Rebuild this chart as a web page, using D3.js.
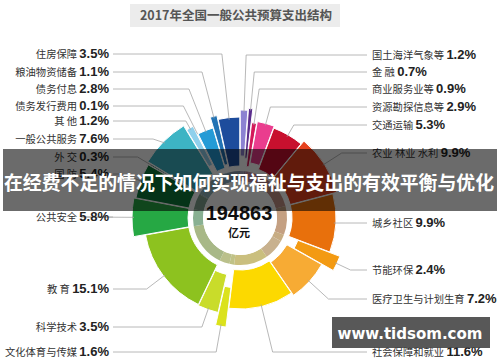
<!DOCTYPE html>
<html><head><meta charset="utf-8">
<script src="https://cdn.jsdelivr.net/npm/d3@7"></script>
<style>body{margin:0;background:#fff;} svg{display:block}</style>
</head><body>
<svg id="c" width="500" height="362"></svg>
<script>
// ---------- data ----------
const title = "2017年全国一般公共预算支出结构";
const categories = ["国土海洋气象等","金 融","商业服务业等","资源勘探信息等","交通运输","农业 林业 水利","城乡社区","节能环保","医疗卫生与计划生育","社会保障和就业","文化体育与传媒","科学技术","教 育","公共安全","国 防","外 交","一般公共服务","其 他","债务发行费用","债务付息","粮油物资储备","住房保障"];
const shares = [1.2,0.7,0.9,2.9,5.3,9.9,9.9,2.4,7.2,11.6,1.6,3.5,15.1,5.8,5.4,0.3,7.6,1.2,0.1,2.8,1.1,3.5];
const totalValue = "194863";
const totalUnit = "亿元";
const bannerText = "在经费不足的情况下如何实现福祉与支出的有效平衡与优化";
const watermark = "www.tidsom.com";
const leftLabels = ["住房保障","粮油物资储备","债务付息","债务发行费用","其 他","一般公共服务","外 交","国 防","公共安全","教 育","科学技术","文化体育与传媒"];
const rightLabels = ["国土海洋气象等","金 融","商业服务业等","资源勘探信息等","交通运输","农业 林业 水利","城乡社区","节能环保","医疗卫生与计划生育","社会保障和就业"];

// ---------- style / layout ----------
const colors = ["#8c82d2","#5a2d8c","#d4195a","#ea3d8e","#c8102e","#e6421e","#e8700c","#f39a12","#f7ab34","#fcd900","#dbe21c","#c9dc2a","#8dc21f","#26a844","#0d7a3a","#1d6f5c","#3db4c4","#8fd0ec","#3aa5d8","#249bd6","#2273b4","#1d4c9c"];
const radii = [[62,108],[60,110],[52,96],[56,98],[52,96],[52,100],[52,96],[62,107],[54,94],[52,91],[70,110],[58,97],[52,96],[52,108],[52,106],[52,104],[52,108],[60,103],[52,96],[52,94],[55,105],[52,101]];
const leftY = [54,72,89,106,121,139,157,174,217,289,327,352];
const rightY = [55,72,89,107,125,153,223,270,299,352];
const cx = 240, cy = 218;
const textFont = "'Noto Sans CJK SC','Noto Sans',sans-serif";
const numFont = "'Liberation Sans',Arial,sans-serif";

const svg = d3.select("#c");

// title
svg.append("rect").attr("x",130).attr("y",4).attr("width",210).attr("height",23).attr("fill","#ececec");
svg.append("text").attr("x",236).attr("y",20).attr("text-anchor","middle")
  .attr("font-family",textFont).attr("font-weight","bold").attr("font-size",12.5).attr("fill","#555").text(title);

const pie = d3.pie().value(d=>d).sort(null);
const arcs = pie(shares);
arcs.forEach((d,i)=>d.index=i);
const g = svg.append("g").attr("transform",`translate(${cx},${cy})`);
const arcGen = d3.arc().innerRadius(d=>radii[d.index][0]).outerRadius(d=>radii[d.index][1]).padAngle(0.004);
g.selectAll("path.seg").data(arcs).join("path").attr("class","seg")
  .attr("d",arcGen).attr("fill",(d,i)=>colors[i]).attr("stroke","#fff").attr("stroke-width",1);

// inner ring (muted colours)
const ringGen = d3.arc().innerRadius(37).outerRadius(47);
g.selectAll("path.ring").data(arcs).join("path").attr("class","ring")
  .attr("d",ringGen).attr("fill",(d,i)=>d3.interpolateRgb(colors[i],"#b4b4b4")(0.7));

g.append("circle").attr("r",37).attr("fill","#fff");
g.append("text").attr("x",-1).attr("y",2).attr("text-anchor","middle").attr("font-family",numFont)
  .attr("font-weight","bold").attr("font-size",20).attr("fill","#111").text(totalValue);
g.append("text").attr("x",-1).attr("y",19).attr("text-anchor","middle").attr("font-family",textFont)
  .attr("font-weight","bold").attr("font-size",11).attr("fill","#111").text(totalUnit);

// labels and leader lines
function anchorPt(i, r){
  const a = (arcs[i].startAngle+arcs[i].endAngle)/2;
  return [cx + r*Math.sin(a), cy - r*Math.cos(a), a];
}
function leader(i, y, side){
  const out = radii[i][1];
  const [ax, ay, a] = anchorPt(i, out - 2);
  const c = Math.cos(a), s = Math.sin(a);
  let bx;
  const r = Math.abs(c) > 1e-6 ? (cy - y)/c : Infinity;
  if (r > out + 6 && r < 260) bx = cx + r*s;
  else bx = ax + (side === "left" ? -12 : 12);
  const x0 = side === "left" ? 113 : 367;
  return [[x0,y],[bx,y],[ax,ay]];
}
const line = d3.line();
const labG = svg.append("g");
function label(name, y, side){
  const i = categories.indexOf(name);
  labG.append("path").attr("d",line(leader(i,y,side))).attr("fill","none").attr("stroke","#a6a6a6").attr("stroke-width",0.8);
  const t = labG.append("text").attr("x",side==="left"?109:372).attr("y",y+4).attr("text-anchor",side==="left"?"end":"start");
  t.append("tspan").attr("font-family",textFont).attr("font-size",10.3).attr("fill","#333").text(name+" ");
  t.append("tspan").attr("font-family",numFont).attr("font-weight","bold").attr("font-size",13).attr("fill","#222").text(shares[i].toFixed(1)+"%");
}
leftLabels.forEach((n,k)=>label(n,leftY[k],"left"));
rightLabels.forEach((n,k)=>label(n,rightY[k],"right"));

// banner overlay
svg.append("rect").attr("x",3).attr("y",149).attr("width",494).attr("height",62).attr("fill","rgba(0,0,0,0.58)");
svg.append("text").attr("x",249).attr("y",190).attr("text-anchor","middle").attr("font-family",textFont)
  .attr("font-weight","bold").attr("font-size",19).attr("fill","#fff")
  .attr("textLength",490).attr("lengthAdjust","spacingAndGlyphs").text(bannerText);

// watermark box
svg.append("rect").attr("x",332).attr("y",317).attr("width",158).attr("height",31).attr("fill","rgba(70,70,70,0.9)");
svg.append("text").attr("x",410).attr("y",339).attr("text-anchor","middle").attr("font-family","'DejaVu Sans',sans-serif")
  .attr("font-weight","bold").attr("font-size",16).attr("fill","#fff")
  .attr("textLength",145).attr("lengthAdjust","spacingAndGlyphs").text(watermark);
</script>
</body></html>
